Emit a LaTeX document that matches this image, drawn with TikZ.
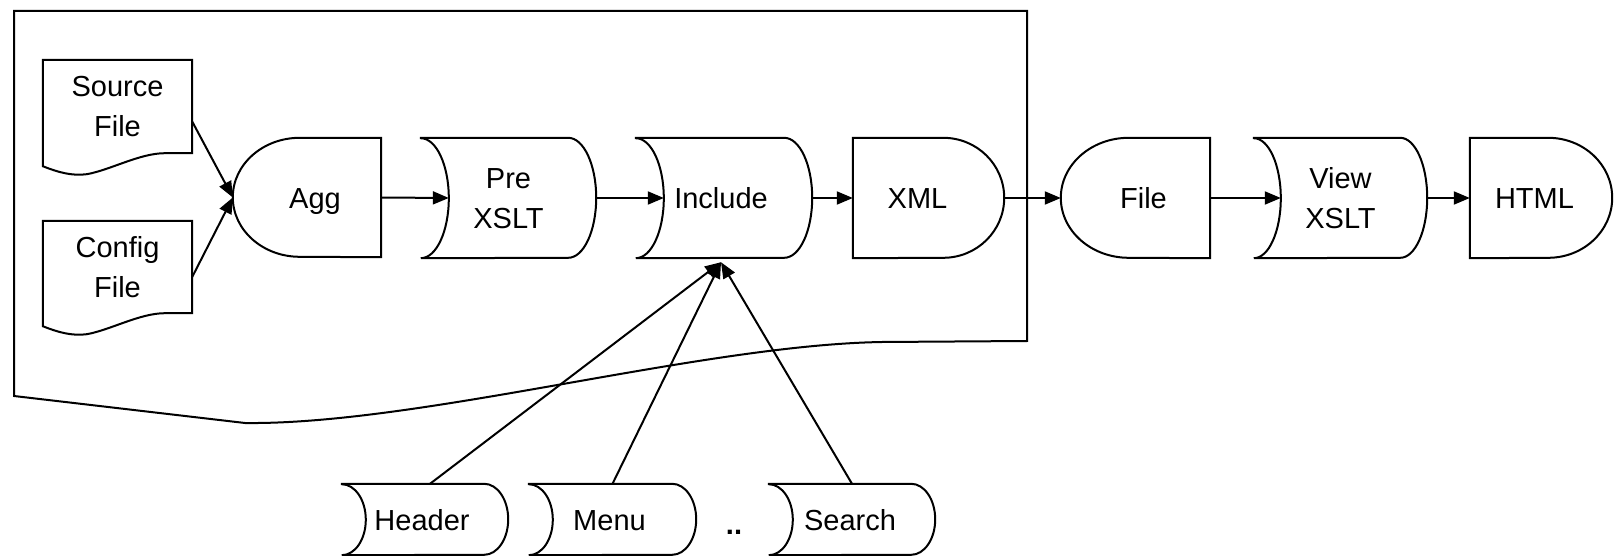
\documentclass[tikz,border=0pt]{standalone}
\usepackage{fontspec}
\setmainfont{Liberation Sans}
\usetikzlibrary{arrows.meta,calc}
\tikzset{
  lbl/.style={draw=none, inner sep=0pt, font=\fontsize{29pt}{40pt}\selectfont, align=center, text depth=0pt},
  one/.style={lbl, text height=21pt},
  two/.style={lbl, text height=61pt},
  outline/.style={draw=black, line width=2pt, line join=miter},
  conn/.style={line width=2pt, -{Triangle[length=16pt,width=13pt]}},
}
\newcommand{\dlyleft}[3]{\draw[outline] (#1.north east) -- ([xshift=#2pt]#1.north west) arc[start angle=90,end angle=270,x radius=#2pt,y radius=#3pt] -- (#1.south east) -- cycle;}
\newcommand{\dlyright}[3]{\draw[outline] (#1.north west) -- ([xshift=-#2pt]#1.north east) arc[start angle=90,end angle=-90,x radius=#2pt,y radius=#3pt] -- (#1.south west) -- cycle;}
\newcommand{\sdshape}[3]{\draw[outline] (#1.north west) -- ([xshift=-#2pt]#1.north east) arc[start angle=90,end angle=-90,x radius=#2pt,y radius=#3pt] -- (#1.south west) arc[start angle=-90,end angle=90,x radius=#2pt,y radius=#3pt] -- cycle;}
\newcommand{\docpage}[1]{\draw[outline] (#1.south east) -- (#1.north east) -- (#1.north west) -- ([yshift=-13pt]#1.south west) .. controls ([xshift=15pt,yshift=-19pt]#1.south west) and ([xshift=29pt,yshift=-23pt]#1.south west) .. ([xshift=44pt,yshift=-21pt]#1.south west) .. controls ([xshift=67pt,yshift=-17pt]#1.south west) and ([xshift=97pt,yshift=0pt]#1.south west) .. ([xshift=122pt]#1.south west) -- cycle;}
\begin{document}
\begin{tikzpicture}[x=1pt,y=1pt]
\useasboundingbox (0,0) rectangle (1614,-556);
% enclosing document outline
\draw[outline] (14,-11) -- (1027,-11) -- (1027,-341) -- (882,-342) .. controls (700,-345) and (420,-425) .. (245,-423) -- (14,-396) -- cycle;
% nodes
\node[two, minimum width=149pt, minimum height=93pt] (src) at (117.5,-106.5) {Source\\File};
\node[two, minimum width=149pt, minimum height=92pt] (cfg) at (117.5,-267) {Config\\File};
\node[one, minimum width=148pt, minimum height=119pt] (agg) at (307,-197.5) {\hspace{16pt}Agg};
\node[two, minimum width=175pt, minimum height=120pt] (pre) at (508.5,-198) {Pre\\XSLT};
\node[one, minimum width=176pt, minimum height=120pt] (inc) at (724,-198) {Include\hspace{6pt}};
\node[one, minimum width=151pt, minimum height=120pt] (xml) at (928.5,-198) {XML\hspace{22pt}};
\node[one, minimum width=149pt, minimum height=120pt] (file) at (1135.5,-198) {\hspace{16pt}File};
\node[two, minimum width=173pt, minimum height=120pt] (view) at (1340.5,-198) {View\\XSLT};
\node[one, minimum width=142pt, minimum height=120pt] (html) at (1541,-198) {HTML\hspace{13pt}};
\node[one, minimum width=166pt, minimum height=71pt] (hdr) at (425,-519.5) {Header\hspace{6pt}};
\node[one, minimum width=167pt, minimum height=71pt] (menu) at (612.5,-519.5) {Menu\hspace{6pt}};
\node[one] (dots) at (734,-524) {\textbf{..}};
\node[one, minimum width=166pt, minimum height=71pt] (srch) at (852,-519.5) {Search\hspace{4pt}};
% outlines
\docpage{src}
\docpage{cfg}
\dlyleft{agg}{67}{59.5}
\sdshape{pre}{28}{60}
\sdshape{inc}{28}{60}
\dlyright{xml}{61}{60}
\dlyleft{file}{68}{60}
\sdshape{view}{27}{60}
\dlyright{html}{64}{60}
\sdshape{hdr}{24}{35.5}
\sdshape{menu}{24}{35.5}
\sdshape{srch}{24}{35.5}
% connectors
\draw[conn] ([yshift=-15pt]src.east) -- (agg.west);
\draw[conn] ([yshift=-10pt]cfg.east) -- (agg.west);
\draw[conn] (agg.east) -- ([xshift=28pt]pre.west);
\draw[conn] (pre.east) -- ([xshift=28pt]inc.west);
\draw[conn] (inc.east) -- (xml.west);
\draw[conn] (xml.east) -- (file.west);
\draw[conn] (file.east) -- ([xshift=27pt]view.west);
\draw[conn] (view.east) -- (html.west);
\draw[conn] ([xshift=5pt]hdr.north) -- ([xshift=-3pt,yshift=-4pt]inc.south);
\draw[conn] (menu.north) -- ([xshift=-3pt,yshift=-4pt]inc.south);
\draw[conn] (srch.north) -- ([xshift=-3pt,yshift=-4pt]inc.south);
\end{tikzpicture}
\end{document}
